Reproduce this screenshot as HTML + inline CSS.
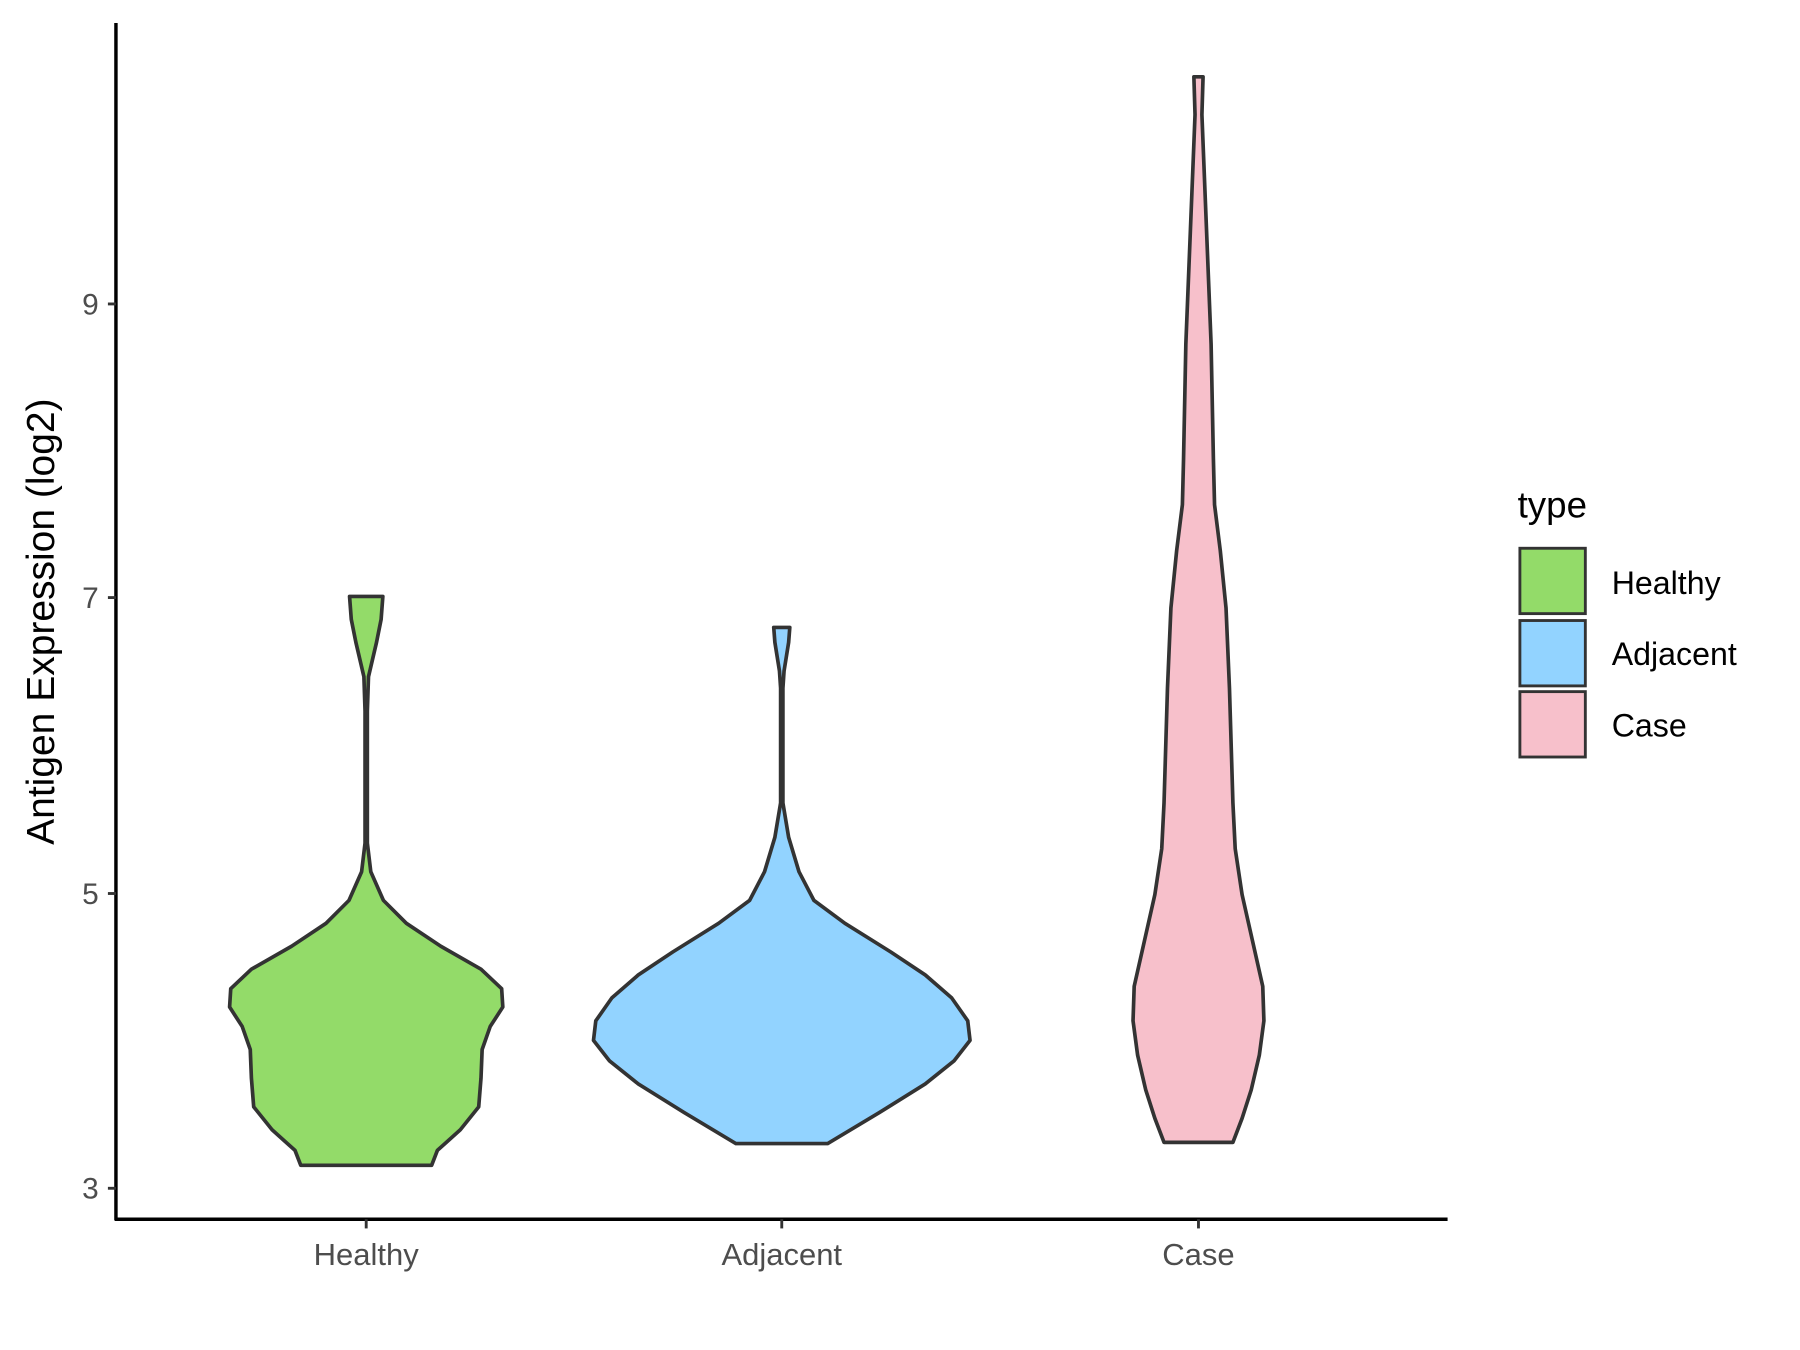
<!DOCTYPE html>
<html><head><meta charset="utf-8"><style>html,body{margin:0;padding:0;background:#fff}svg{display:block}</style></head>
<body>
<svg width="1800" height="1350" viewBox="0 0 1568 1177" preserveAspectRatio="none" xmlns="http://www.w3.org/2000/svg" font-family="Liberation Sans, Arial, sans-serif">
<rect width="1568" height="1177" fill="#fff"/>
<g stroke="#333" stroke-width="3.2" stroke-linejoin="round">
<polygon fill="#93DB69" points="333.5,520 332,540 328,560 321,590 320,620 320,735 323,760 334,785 354,805 384,825 419,845 437,862 438,878 427,895 420,915 419,940 417,965 401,985 381,1003 376,1016 262,1016 257,1003 237,985 221,965 219,940 218,915 211,895 200,878 201,862 219,845 254,825 284,805 304,785 315,760 318,735 318,620 317,590 310,560 306,540 304.5,520"/>
<polygon fill="#92D3FF" points="688,547 687,560 683,585 682,600 682,700 687,730 696,760 709,785 736,805 776,830 806,850 829,870 843,890 845,907 831,925 806,945 766,970 721,997 641,997 596,970 556,945 531,925 517,907 519,890 533,870 556,850 586,830 626,805 653,785 666,760 675,730 680,700 680,600 679,585 675,560 674,547"/>
<polygon fill="#F7C0CB" points="1048,67 1047,100 1051,200 1055,300 1057,400 1058,440 1063,480 1068,530 1071,600 1074,700 1076,740 1082,780 1091,820 1100,860 1101,890 1097,920 1090,950 1082,975 1074,996 1014,996 1006,975 998,950 991,920 987,890 988,860 997,820 1006,780 1012,740 1014,700 1017,600 1020,530 1025,480 1030,440 1031,400 1033,300 1037,200 1041,100 1040,67"/>
</g>
<line x1="101" y1="20" x2="101" y2="1064" stroke="#000" stroke-width="3"/>
<line x1="100" y1="1063" x2="1261" y2="1063" stroke="#000" stroke-width="3"/>
<g stroke="#333" stroke-width="2.5">
<line x1="94" y1="265" x2="101" y2="265"/><line x1="94" y1="521" x2="101" y2="521"/>
<line x1="94" y1="779" x2="101" y2="779"/><line x1="94" y1="1036" x2="101" y2="1036"/>
<line x1="319" y1="1063" x2="319" y2="1071"/><line x1="681" y1="1063" x2="681" y2="1071"/><line x1="1044" y1="1063" x2="1044" y2="1071"/>
</g>
<g fill="#4d4d4d" font-size="26" text-anchor="end">
<text x="86" y="274">9</text><text x="86" y="530">7</text><text x="86" y="788">5</text><text x="86" y="1045">3</text>
</g>
<g fill="#4d4d4d" font-size="27" text-anchor="middle">
<text x="319" y="1103">Healthy</text><text x="681" y="1103">Adjacent</text><text x="1044" y="1103">Case</text>
</g>
<text transform="translate(47,542) rotate(-90)" font-size="34" text-anchor="middle" fill="#000">Antigen Expression (log2)</text>
<text x="1322" y="451" font-size="32" fill="#000">type</text>
<g stroke="#333" stroke-width="2.5">
<rect x="1324" y="478" width="57" height="57" fill="#93DB69"/>
<rect x="1324" y="541" width="57" height="57" fill="#92D3FF"/>
<rect x="1324" y="603" width="57" height="57" fill="#F7C0CB"/>
</g>
<g font-size="28" fill="#000">
<text x="1404" y="518">Healthy</text><text x="1404" y="580">Adjacent</text><text x="1404" y="642">Case</text>
</g>
</svg>
</body></html>
